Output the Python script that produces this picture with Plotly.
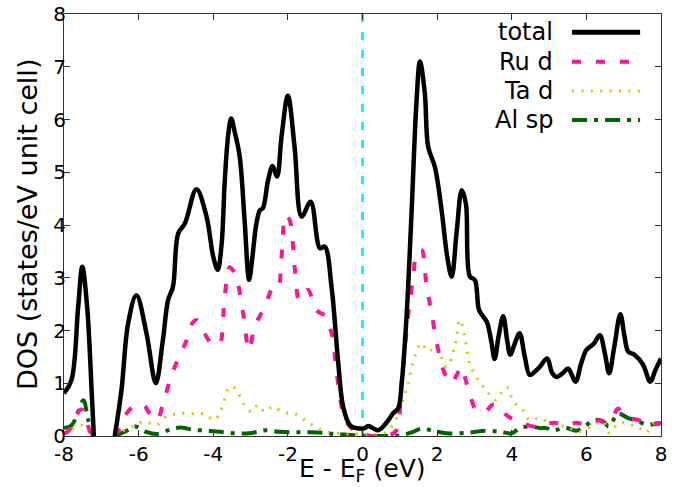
import plotly.graph_objects as go

# ---------------- data ----------------
total_x = [-8.0, -7.8, -7.62, -7.51, -7.38, -7.26, -7.2, None,
           -6.64, -6.46, -6.28, -6.06, -5.79, -5.54, -5.35, -5.21, -5.08, -4.94, -4.76,
           -4.45, -4.18, -4.0, -3.88, -3.78, -3.69, -3.6, -3.52, -3.42, -3.29, -3.16, -3.04,
           -2.95, -2.85, -2.75, -2.67, -2.53, -2.41, -2.29, -2.17, -2.0, -1.82, -1.63, -1.39,
           -1.14, -1.01, -0.83, -0.65, -0.52, -0.34, -0.16, 0.06, 0.15, 0.42, 0.64, 0.82,
           0.96, 1.05, 1.18, 1.31, 1.45, 1.54, 1.67, 1.76, 1.94, 2.12, 2.27, 2.39, 2.52,
           2.66, 2.77, 2.88, 3.01, 3.12, 3.23, 3.34, 3.46, 3.54, 3.65, 3.77, 3.88, 3.96,
           4.08, 4.21, 4.35, 4.48, 4.62, 4.75, 4.95, 5.08, 5.2, 5.38, 5.51, 5.71, 5.85,
           6.0, 6.2, 6.36, 6.5, 6.61, 6.75, 6.91, 7.02, 7.12, 7.29, 7.52, 7.71, 7.85, 8.0]
total_y = [0.81, 1.06, 2.45, 3.21, 2.45, 0.87, 0.0, None,
           0.0, 0.87, 2.14, 2.67, 1.95, 1.0, 1.82, 2.58, 2.83, 3.84, 4.03,
           4.68, 4.16, 3.4, 3.15, 3.6, 4.85, 5.7, 6.02, 5.75, 5.29, 4.09, 2.96,
           3.4, 4.0, 4.28, 4.32, 4.85, 5.12, 4.92, 5.67, 6.45, 5.48, 4.16, 4.44,
           3.56, 3.59, 2.83, 1.38, 0.56, 0.21, 0.15, 0.15, 0.19, 0.11, 0.25, 0.43,
           0.53, 1.0, 2.26, 4.16, 6.37, 7.1, 6.5, 5.48, 5.1, 4.28, 3.4, 3.02, 3.84,
           4.66, 4.41, 3.02, 2.96, 2.4, 2.27, 2.15, 1.76, 1.46, 1.9, 2.27, 1.8, 1.54,
           1.75, 1.95, 1.5, 1.16, 1.22, 1.31, 1.47, 1.2, 1.12, 1.2, 1.28, 1.03, 1.35,
           1.63, 1.75, 1.91, 1.55, 1.19, 1.7, 2.31, 1.9, 1.6, 1.54, 1.35, 1.03, 1.25, 1.47]

ru_x = [-8.0, -7.9, -7.75, -7.6, -7.52, -7.42, -7.3, -7.22, None,
        -6.64, -6.5, -6.32, -6.1, -5.87, -5.7, -5.51, -5.35, -5.16, -4.95, -4.71, -4.55,
        -4.45, -4.3, -4.13, -3.95, -3.82, -3.72, -3.64, -3.56, -3.45, -3.38, -3.2, -3.04,
        -2.89, -2.62, -2.39, -2.27, -2.17, -2.06, -1.95, -1.82, -1.7, -1.58, -1.46, -1.24,
        -0.97, -0.85, -0.79, -0.7, -0.56, -0.45, -0.34, -0.16, 0.0, 0.24, 0.5, 0.75, 0.91,
        1.05, 1.22, 1.36, 1.45, 1.58, 1.71, 1.85, 2.03, 2.2, 2.39, 2.52, 2.65, 2.75, 2.87,
        3.05, 3.28, 3.5, 3.7, 3.85, 4.03, 4.3, 4.57, 4.85, 5.15, 5.45, 5.73, 6.0, 6.3,
        6.55, 6.7, 6.85, 7.0, 7.16, 7.4, 7.6, 7.78, 8.0]
ru_y = [0.05, 0.08, 0.25, 0.48, 0.5, 0.35, 0.08, 0.0, None,
        0.0, 0.15, 0.43, 0.58, 0.59, 0.42, 0.3, 0.6, 1.06, 1.45, 1.82, 2.15,
        2.2, 2.05, 1.82, 1.72, 1.76, 2.4, 2.96, 3.2, 3.12, 3.02, 2.33, 1.63,
        2.07, 2.45, 2.82, 2.8, 3.4, 4.19, 4.09, 3.21, 2.58, 2.7, 2.77, 2.39,
        2.26, 2.0, 1.82, 1.25, 0.56, 0.3, 0.18, 0.08, 0.05, 0.0, 0.0, 0.02, 0.11,
        1.0, 2.26, 3.02, 3.46, 3.53, 2.89, 2.33, 1.63, 1.19, 1.0, 1.15, 1.31, 1.1, 0.81,
        0.49, 0.46, 0.6, 0.55, 0.4, 0.32, 0.25, 0.18, 0.22, 0.25, 0.2, 0.25, 0.22, 0.3,
        0.25, 0.35, 0.52, 0.4, 0.34, 0.3, 0.22, 0.21, 0.25]

ta_x = [-8.0, -7.8, -7.62, -7.5, -7.35, -7.22, None,
        -6.64, -6.4, -6.17, -5.98, -5.79, -5.62, -5.51, -5.25, -4.89, -4.6, -4.45, -4.18,
        -4.0, -3.85, -3.73, -3.56, -3.4, -3.2, -2.97, -2.8, -2.62, -2.39, -2.17, -1.95,
        -1.73, -1.5, -1.27, -1.0, -0.79, -0.5, -0.2, 0.06, 0.47, 0.65, 0.82, 1.05, 1.22,
        1.4, 1.58, 1.76, 1.98, 2.25, 2.47, 2.61, 2.74, 2.87, 3.1, 3.32, 3.54, 3.7, 3.86,
        4.05, 4.3, 4.48, 4.75, 5.1, 5.45, 5.82, 6.18, 6.45, 6.62, 6.88, 7.16, 7.4, 7.58,
        7.85, 8.0]
ta_y = [0.05, 0.12, 0.2, 0.2, 0.1, 0.0, None,
        0.0, 0.1, 0.18, 0.25, 0.27, 0.22, 0.21, 0.37, 0.43, 0.42, 0.43, 0.4,
        0.3, 0.4, 0.62, 0.93, 0.9, 0.62, 0.46, 0.59, 0.46, 0.56, 0.46, 0.43,
        0.4, 0.27, 0.18, 0.08, 0.06, 0.04, 0.04, 0.04, 0.04, 0.08, 0.21, 0.62, 1.0,
        1.5, 1.76, 1.6, 1.69, 1.31, 1.69, 2.2, 1.9, 1.38, 1.06, 0.87, 0.68, 0.8, 0.93,
        0.65, 0.49, 0.3, 0.34, 0.21, 0.18, 0.08, 0.21, 0.27, 0.06, 0.25, 0.22, 0.16, 0.06,
        0.26, 0.27]

al_x = [-8.0, -7.8, -7.62, -7.48, -7.35, -7.22, None,
        -6.64, -6.37, -6.1, -5.8, -5.51, -5.16, -4.89, -4.55, -4.18, -3.82, -3.42, -3.04,
        -2.8, -2.58, -2.24, -1.73, -1.37, -1.03, -0.79, -0.34, 0.1, 0.47, 1.0, 1.36, 1.58,
        1.9, 2.25, 2.8, 3.3, 3.7, 4.0, 4.21, 4.53, 4.75, 4.93, 5.1, 5.42, 5.73, 5.95, 6.2,
        6.45, 6.6, 6.85, 7.12, 7.3, 7.66, 7.9, 8.0]
al_y = [0.15, 0.2, 0.46, 0.68, 0.3, 0.0, None,
        0.0, 0.08, 0.18, 0.08, 0.04, 0.12, 0.16, 0.12, 0.1, 0.08, 0.05, 0.05,
        0.08, 0.11, 0.08, 0.07, 0.07, 0.06, 0.04, 0.02, 0.0, 0.0, 0.01, 0.08, 0.14,
        0.1, 0.05, 0.06, 0.1, 0.08, 0.05, 0.15, 0.18, 0.15, 0.15, 0.1, 0.16, 0.1, 0.18, 0.3,
        0.28, 0.18, 0.42, 0.34, 0.3, 0.21, 0.24, 0.24]

fermi_x = [0.0, 0.0]
fermi_y = [0.0, 8.0]

x_ticks = [-8, -6, -4, -2, 0, 2, 4, 6, 8]
y_ticks = [0, 1, 2, 3, 4, 5, 6, 7, 8]

series = [
    ("total", total_x, total_y, "#000000", 4.5, "solid"),
    ("Ru d", ru_x, ru_y, "#ff1493", 4, "9px,15px"),
    ("Ta d", ta_x, ta_y, "#cccc00", 3, "2px,7.4px"),
    ("Al sp", al_x, al_y, "#006400", 4, "15px,7px,4px,7px"),
]

FONT = "DejaVu Sans"
fig = go.Figure()

fig.add_trace(go.Scatter(x=fermi_x, y=fermi_y, mode="lines", showlegend=False,
                         line=dict(color="#00ffff", width=3, dash="8px,10px"),
                         hoverinfo="skip"))

for name, xs, ys, col, w, dash in reversed(series):
    fig.add_trace(go.Scatter(x=xs, y=ys, mode="lines", name=name, showlegend=False,
                             connectgaps=False,
                             line=dict(color=col, width=w, dash=dash,
                                       shape="spline", smoothing=1.0)))

# gnuplot-style legend: text then sample line
leg_y = [0.957, 0.887, 0.8175, 0.749]
for (name, xs, ys, col, w, dash), yy in zip(series, leg_y):
    fig.add_annotation(x=0.822, y=yy, xref="paper", yref="paper", text=name,
                       showarrow=False, xanchor="right", yanchor="middle",
                       font=dict(family=FONT, size=24, color="black"))
    fig.add_shape(type="line", xref="paper", yref="paper", x0=0.851, x1=0.965,
                  y0=yy, y1=yy, line=dict(color=col, width=w + (0.5 if name == "total" else 0),
                                          dash=dash))

# axis titles
fig.add_annotation(x=0.5, y=0, xref="paper", yref="paper", yshift=-34,
                   text="E - E<sub>F</sub> (eV)", showarrow=False,
                   xanchor="center", yanchor="middle",
                   font=dict(family=FONT, size=25, color="black"))
fig.add_annotation(x=0, y=0.5, xref="paper", yref="paper", xshift=-37,
                   text="DOS (states/eV unit cell)", showarrow=False, textangle=-90,
                   xanchor="center", yanchor="middle",
                   font=dict(family=FONT, size=27, color="black"))

axis_common = dict(showline=True, linecolor="#333333", linewidth=1, mirror="ticks",
                   ticks="inside", ticklen=6, tickwidth=1, tickcolor="#333333",
                   showgrid=False, zeroline=False, automargin=False,
                   tickfont=dict(family=FONT, size=20, color="black"))

fig.update_xaxes(range=[-8, 8], tickvals=x_ticks, ticktext=[str(v) for v in x_ticks],
                 **axis_common)
fig.update_yaxes(range=[0, 8], tickvals=y_ticks, ticktext=[str(v) for v in y_ticks],
                 ticklabelstandoff=-7,
                 **axis_common)

fig.update_layout(width=684, height=487, margin=dict(l=64, r=23, t=14, b=51),
                  paper_bgcolor="white", plot_bgcolor="white",
                  font=dict(family=FONT, color="black"))

fig.write_html("out.html")
